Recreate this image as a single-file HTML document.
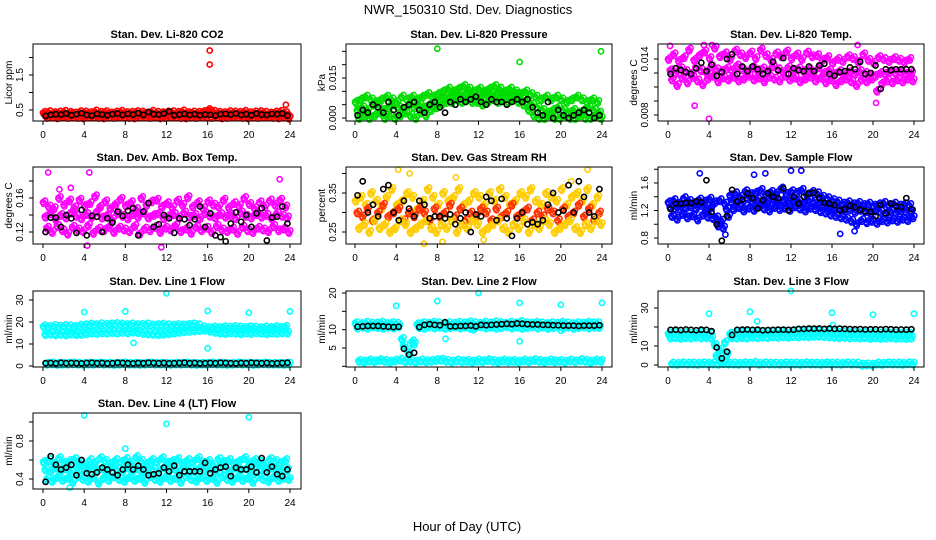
<!DOCTYPE html>
<html><head><meta charset="utf-8">
<style>
html,body{margin:0;padding:0;background:#fff;}
svg{display:block;font-family:"Liberation Sans",Arial,sans-serif;}
</style></head>
<body>
<svg id="chart" width="936" height="540" viewBox="0 0 936 540" xmlns="http://www.w3.org/2000/svg">
<rect width="936" height="540" fill="#fff"/>
<text x="468" y="14" font-size="13" text-anchor="middle">NWR_150310  Std. Dev. Diagnostics</text>
<text x="467" y="531" font-size="13" text-anchor="middle">Hour of Day (UTC)</text>
</svg>
<script>
const hours=[0,0.5,1,1.5,2,2.5,3,3.5,4,4.5,5,5.5,6,6.5,7,7.5,8,8.5,9,9.5,10,10.5,11,11.5,12,12.5,13,13.5,14,14.5,15,15.5,16,16.5,17,17.5,18,18.5,19,19.5,20,20.5,21,21.5,22,22.5,23,23.5];
const xTicks=[0,4,8,12,16,20,24];

const co2A=[.42,.44,.41,.43,.45,.42,.40,.44,.43,.41,.46,.42,.44,.40,.43,.45,.41,.42,.44,.43,.40,.45,.42,.41,.43,.44,.42,.46,.41,.43,.42,.44,.50,.45,.42,.41,.44,.43,.42,.45,.41,.43,.44,.42,.40,.43,.45,.41];
const co2B=[.36,.35,.37,.34,.36,.38,.35,.36,.37,.34,.36,.35,.38,.36,.34,.37,.36,.35,.37,.38,.36,.34,.35,.37,.36,.35,.38,.36,.37,.34,.36,.35,.45,.37,.36,.35,.34,.37,.36,.38,.35,.36,.37,.34,.36,.35,.37,.33];
const co2C=[.30,.31,.29,.32,.30,.31,.30,.29,.32,.31,.30,.29,.31,.30,.32,.31,.30,.29,.31,.32,.30,.31,.29,.30,.32,.31,.30,.29,.31,.30,.32,.31,.30,.31,.29,.30,.32,.31,.30,.29,.31,.30,.32,.31,.30,.29,.31,.28];
const co2Black=[.33,.36,.38,.37,.40,.35,.38,.41,.36,.34,.39,.37,.35,.38,.40,.36,.39,.37,.41,.36,.44,.38,.37,.40,.46,.35,.37,.39,.36,.38,.35,.37,.36,.34,.38,.39,.37,.40,.36,.38,.35,.40,.37,.36,.39,.38,.40,.34];
const co2OutX=[16.2,16.2,23.6], co2OutY=[2.2,1.8,0.65];

const presA=[.006,.007,.008,.007,.006,.007,.008,.007,.006,.008,.007,.008,.007,.008,.009,.008,.009,.010,.011,.010,.011,.012,.011,.010,.011,.010,.011,.012,.011,.010,.011,.010,.009,.010,.009,.008,.007,.008,.007,.008,.007,.006,.007,.008,.007,.006,.007,.006];
const presB=[.003,.004,.003,.005,.004,.003,.004,.005,.004,.003,.005,.004,.005,.004,.005,.006,.007,.008,.008,.009,.008,.009,.008,.007,.008,.009,.008,.009,.008,.009,.008,.009,.007,.006,.005,.004,.003,.002,.003,.004,.003,.002,.003,.002,.003,.004,.003,.002];
const presC=[.000,.001,.000,.001,.002,.000,.001,.000,.001,.002,.001,.000,.002,.001,.003,.004,.005,.006,.006,.007,.006,.007,.006,.006,.005,.006,.007,.006,.007,.006,.007,.006,.005,.003,.001,.000,.000,.001,.000,.000,.001,.000,.000,.001,.000,.000,.001,.000];
const presBlack=[.001,.003,.002,.005,.004,.002,.006,.003,.001,.004,.005,.006,.003,.002,.005,.006,.004,.002,.006,.005,.007,.006,.007,.008,.006,.005,.007,.006,.006,.005,.006,.007,.006,.007,.004,.002,.001,.006,.000,.003,.001,.000,.001,.002,.003,.002,.000,.001];
const presOutX=[8,16,23.9], presOutY=[.026,.021,.025];

const tempA=[.0140,.0145,.0138,.0142,.0150,.0139,.0144,.0148,.0141,.0152,.0143,.0146,.0140,.0149,.0145,.0142,.0147,.0141,.0150,.0144,.0139,.0146,.0143,.0148,.0141,.0145,.0140,.0147,.0143,.0144,.0139,.0142,.0136,.0140,.0138,.0143,.0141,.0137,.0145,.0139,.0136,.0142,.0140,.0138,.0141,.0139,.0137,.0140];
const tempB=[.0128,.0125,.0130,.0127,.0124,.0131,.0128,.0126,.0132,.0129,.0127,.0130,.0128,.0133,.0129,.0126,.0131,.0128,.0130,.0127,.0132,.0129,.0126,.0131,.0128,.0130,.0127,.0129,.0126,.0131,.0125,.0128,.0124,.0127,.0123,.0126,.0124,.0127,.0125,.0123,.0122,.0125,.0124,.0127,.0125,.0126,.0124,.0125];
const tempC=[.0118,.0112,.0120,.0115,.0121,.0117,.0113,.0119,.0122,.0116,.0120,.0118,.0121,.0117,.0119,.0122,.0118,.0120,.0116,.0121,.0119,.0117,.0122,.0118,.0120,.0116,.0119,.0121,.0117,.0120,.0115,.0118,.0113,.0117,.0119,.0116,.0112,.0118,.0116,.0119,.0106,.0114,.0117,.0115,.0118,.0116,.0119,.0117];
const tempBlack=[.0124,.0130,.0128,.0126,.0124,.0130,.0136,.0127,.0134,.0122,.0126,.0140,.0145,.0124,.0132,.0127,.0132,.0129,.0124,.0127,.0137,.0128,.0141,.0124,.0130,.0128,.0127,.0132,.0127,.0133,.0135,.0124,.0122,.0126,.0127,.0131,.0129,.0137,.0124,.0125,.0133,.0108,.0129,.0128,.0129,.0129,.0129,.0129];
const tempOutX=[0.2,3.5,4,4.3,18.5,20.3,2.6], tempOutY=[.0154,.0155,.0076,.0155,.0155,.0093,.0090];

const ambA=[.155,.150,.148,.160,.152,.157,.149,.158,.151,.154,.162,.150,.156,.148,.153,.159,.151,.155,.147,.160,.152,.156,.158,.150,.154,.149,.157,.152,.161,.150,.155,.148,.156,.152,.150,.158,.149,.154,.151,.160,.153,.148,.155,.150,.157,.152,.158,.150];
const ambB=[.138,.142,.135,.140,.137,.143,.139,.136,.141,.138,.144,.137,.140,.135,.142,.139,.136,.141,.138,.143,.137,.140,.142,.136,.139,.141,.137,.143,.138,.140,.136,.142,.139,.137,.141,.138,.140,.136,.143,.139,.137,.141,.138,.140,.136,.142,.139,.137];
const ambC=[.125,.120,.127,.122,.118,.126,.123,.121,.128,.119,.124,.122,.126,.120,.125,.123,.121,.127,.118,.124,.122,.126,.120,.125,.123,.128,.121,.124,.119,.126,.122,.125,.120,.127,.123,.121,.124,.119,.126,.122,.120,.125,.123,.121,.127,.122,.124,.120];
const ambBlack=[.120,.137,.137,.126,.140,.136,.119,.146,.116,.139,.138,.120,.136,.131,.144,.139,.145,.148,.116,.144,.154,.126,.129,.140,.136,.119,.136,.135,.128,.135,.150,.126,.142,.116,.114,.109,.130,.143,.132,.140,.126,.142,.148,.110,.137,.138,.150,.130];
const ambOutX=[0.5,4.5,11.5,23,2.7,1.6,4.3], ambOutY=[.190,.190,.102,.182,.172,.170,.104];

const rhA=[.33,.34,.32,.35,.33,.31,.34,.36,.32,.33,.35,.34,.31,.33,.36,.34,.32,.35,.33,.34,.36,.32,.33,.35,.34,.32,.35,.33,.36,.34,.32,.33,.35,.34,.36,.33,.32,.35,.34,.33,.36,.32,.34,.35,.33,.36,.32,.34];
const rhB=[.30,.29,.31,.28,.30,.32,.29,.30,.31,.28,.30,.29,.31,.30,.28,.31,.29,.30,.32,.29,.31,.28,.30,.29,.31,.30,.28,.31,.29,.30,.32,.29,.30,.31,.28,.30,.29,.31,.30,.28,.31,.29,.30,.32,.29,.31,.28,.30];
const rhC=[.26,.27,.25,.28,.26,.27,.25,.26,.28,.27,.25,.26,.27,.28,.26,.25,.27,.26,.28,.25,.27,.26,.28,.27,.25,.26,.27,.28,.26,.25,.27,.26,.28,.25,.27,.26,.28,.27,.25,.26,.27,.28,.26,.25,.27,.26,.28,.27];
const rhBlack=[.344,.38,.30,.32,.29,.36,.37,.30,.28,.33,.31,.29,.33,.32,.285,.29,.29,.285,.295,.27,.285,.30,.25,.295,.29,.34,.33,.28,.335,.285,.24,.285,.30,.27,.275,.27,.28,.32,.35,.30,.305,.37,.30,.38,.34,.30,.29,.36];
const rhOutX=[4.2,5.3,9.8,6.7,8.5,22.6,21,12.5], rhOutY=[.41,.40,.39,.22,.225,.41,.38,.23];

const sfA=[1.32,1.35,1.30,1.38,1.34,1.31,1.36,1.33,1.37,1.32,1.35,1.30,1.42,1.45,1.40,1.48,1.44,1.46,1.50,1.43,1.47,1.45,1.52,1.44,1.48,1.46,1.50,1.43,1.47,1.45,1.40,1.38,1.35,1.33,1.30,1.32,1.29,1.31,1.28,1.30,1.27,1.29,1.31,1.28,1.30,1.27,1.29,1.28];
const sfB=[1.25,1.22,1.27,1.24,1.26,1.23,1.28,1.21,1.25,1.10,1.05,1.22,1.32,1.35,1.30,1.38,1.33,1.36,1.34,1.31,1.37,1.33,1.35,1.32,1.36,1.34,1.31,1.35,1.33,1.30,1.28,1.25,1.22,1.24,1.20,1.22,1.18,1.21,1.19,1.17,1.20,1.18,1.16,1.19,1.17,1.20,1.18,1.19];
const sfC=[1.12,1.08,1.15,1.10,1.13,1.07,1.14,1.11,1.09,0.98,0.95,1.12,1.22,1.25,1.20,1.24,1.21,1.26,1.23,1.20,1.25,1.22,1.24,1.21,1.26,1.23,1.20,1.24,1.22,1.19,1.17,1.14,1.12,1.10,1.08,1.05,1.00,1.06,1.03,1.05,1.02,1.06,1.04,1.07,1.05,1.08,1.06,1.10];
const sfBlack=[1.22,1.30,1.30,1.31,1.31,1.33,1.32,1.64,1.18,1.00,0.76,1.12,1.50,1.33,1.36,1.45,1.38,1.23,1.35,1.45,1.40,1.38,1.52,1.20,1.40,1.30,1.40,1.45,1.46,1.38,1.31,1.30,1.28,1.20,1.22,1.27,1.25,1.21,1.19,1.18,1.12,1.28,1.16,1.30,1.26,1.25,1.38,1.22];
const sfOutX=[3.1,12,13,9.5,8.4,16.8,5.6,18.2], sfOutY=[1.74,1.78,1.78,1.74,1.72,0.86,0.85,0.90];

const l1A=[18.0,17.8,18.2,17.9,18.1,18.0,17.7,18.3,18.5,18.8,18.6,19.0,18.7,18.9,19.1,18.8,18.6,18.9,18.5,18.7,18.9,18.4,18.6,18.8,18.5,18.3,18.6,18.4,18.7,18.9,18.5,17.5,17.2,17.5,17.3,17.6,17.4,17.7,17.5,17.3,17.6,17.4,17.2,17.5,17.3,17.6,17.4,17.8];
const l1B=[14.5,14.7,14.4,14.6,14.3,14.8,14.5,14.6,14.9,15.2,15.0,15.3,15.1,15.4,15.2,15.5,15.3,15.6,15.4,15.0,14.8,14.6,14.5,14.7,14.9,15.2,15.5,15.8,16.0,16.2,16.3,16.5,16.0,15.5,15.2,15.0,15.3,15.1,14.9,15.2,15.0,15.3,15.1,14.9,15.2,15.0,15.3,15.1];
const l1C=[1,1.2,0.9,1.1,1,1.2,1,0.9,1.1,1,1.2,1,1.1,0.9,1,1.2,1,1.1,0.9,1,1.2,1,1.1,1,0.9,1.1,1,1.2,1,0.9,1.1,1,1.2,1,1.1,0.9,1,1.2,1,1.1,0.9,1,1.2,1,1.1,1,0.9,1.1];
const l1Black=[1.3,1.4,1.2,1.5,1.3,1.4,1.3,1.2,1.4,1.5,1.3,1.4,1.2,1.3,1.5,1.4,1.3,1.2,1.4,1.3,1.5,1.4,1.3,1.4,1.2,1.3,1.4,1.5,1.3,1.4,1.2,1.3,1.4,1.3,1.5,1.4,1.3,1.2,1.4,1.3,1.5,1.4,1.3,1.4,1.2,1.3,1.4,1.5];
const l1OutX=[4,8,12,16,20,24,8.8,16,7.7], l1OutY=[24.5,24.8,33,25,24.2,24.8,10.5,8,19.5];

const l2A=[11.8,11.5,11.9,11.6,11.7,11.9,11.5,11.8,11.6,7.5,4.5,6.8,11.5,11.8,11.6,11.9,11.7,11.5,11.8,11.6,11.9,11.7,12.0,11.8,11.6,11.9,11.7,12.0,11.8,11.6,11.9,11.7,12.1,11.8,11.6,11.9,11.7,11.5,11.8,11.6,11.9,11.7,11.5,11.8,11.6,11.9,11.7,11.8];
const l2B=[10.6,10.8,10.5,10.9,10.7,10.5,10.8,10.6,10.9,5.8,3.5,6.2,10.7,10.5,10.9,10.6,10.8,10.5,10.7,10.9,10.6,10.8,10.5,10.7,10.9,10.6,10.8,10.5,10.7,10.9,10.6,10.8,10.5,10.7,10.9,10.6,10.8,10.5,10.7,10.9,10.6,10.8,10.5,10.7,10.9,10.6,10.8,10.7];
const l2C=[1.5,1.3,1.6,1.4,1.7,1.5,1.3,1.6,1.8,1.4,1.5,1.3,1.6,1.4,1.5,1.7,1.8,1.5,1.3,1.6,1.4,1.5,1.3,1.6,1.4,1.7,1.5,1.3,1.6,1.4,1.5,1.3,1.6,1.4,1.7,1.5,1.3,1.6,1.4,1.5,1.3,1.6,1.4,1.7,1.5,1.3,1.6,1.5];
const l2Black=[10.8,10.9,11.0,11.0,11.0,10.9,10.8,10.7,10.8,4.8,3.2,3.7,10.7,11.3,11.5,11.3,11.2,12.0,10.9,10.9,11.0,11.0,11.1,10.9,11.3,11.2,11.3,11.4,11.5,11.6,11.5,11.7,11.6,11.5,11.4,11.4,11.3,11.3,11.2,11.2,11.1,11.1,11.1,11.0,11.1,11.1,11.1,11.2];
const l2OutX=[4,8,12,16,20,24,8.8,16,20,11.5], l2OutY=[16.5,17.8,20,17.3,16.8,17.3,7.5,6.8,9.7,9.8];

const l3A=[16.5,17,16.2,16.8,16.5,16.3,16.9,16.6,16.4,10.5,8,12,16.5,16.8,16.9,17.2,17,17.3,17.1,17.4,17.2,17.5,17.3,17.6,17.4,17.7,17.5,17.8,17.5,17.6,17.8,17.5,17.2,16.9,17.1,16.8,17.0,16.7,16.9,16.6,16.8,16.5,16.7,16.4,16.6,16.3,16.5,16.4];
const l3B=[14.5,14.7,14.3,14.6,14.4,14.8,14.5,14.6,14.3,5,2.5,5.5,14.6,14.4,14.7,14.5,14.8,14.6,14.9,14.7,15.0,14.8,15.1,14.9,15.2,15.0,15.3,15.1,15.3,15.4,15.2,15.0,14.8,14.6,14.8,14.5,14.7,14.4,14.6,14.3,14.5,14.2,14.4,14.6,14.3,14.5,14.2,14.4];
const l3C=[0.8,0.6,0.9,0.7,0.8,0.6,0.9,0.7,0.8,0.6,0.9,0.7,0.8,0.6,0.9,0.7,1.2,0.6,0.9,0.7,0.8,0.6,0.9,0.7,0.8,0.6,0.9,0.7,0.8,0.6,0.9,0.7,0.8,0.6,0.9,0.7,0.8,0.2,0.3,0.2,0.8,0.6,0.9,0.7,0.8,0.6,0.9,0.7];
const l3Black=[18.5,18.6,18.4,18.7,18.5,18.3,18.6,18.5,17.8,9.2,3.5,7.0,15.8,18.5,18.6,18.7,18.5,18.6,18.3,18.4,18.5,18.6,18.6,18.5,18.6,19.0,19.0,19.2,19.1,19.2,19.0,19.2,19.0,19.1,19.0,18.9,18.8,18.9,18.7,18.8,18.8,18.7,18.9,18.8,18.6,18.7,18.6,18.8];
const l3OutX=[4,8,12,16,20,24,8.7,16.1], l3OutY=[27,28,39,27.5,26.5,27,23,21];

const l4A=[.58,.60,.56,.62,.57,.59,.61,.58,.55,.60,.57,.62,.59,.56,.60,.58,.61,.57,.63,.59,.56,.60,.58,.62,.57,.59,.61,.56,.60,.58,.62,.57,.59,.55,.61,.58,.60,.56,.59,.62,.57,.60,.58,.55,.61,.59,.57,.60];
const l4B=[.50,.48,.52,.49,.51,.47,.53,.50,.48,.52,.49,.51,.47,.53,.50,.48,.52,.49,.51,.47,.53,.50,.48,.52,.49,.51,.47,.53,.50,.48,.52,.49,.51,.47,.53,.50,.48,.52,.49,.51,.47,.53,.50,.48,.52,.49,.51,.50];
const l4C=[.40,.38,.42,.39,.41,.37,.43,.40,.38,.42,.36,.41,.39,.43,.40,.38,.42,.39,.41,.37,.43,.40,.38,.42,.39,.41,.37,.43,.40,.38,.42,.39,.41,.37,.43,.40,.38,.42,.39,.41,.37,.43,.40,.38,.42,.39,.41,.40];
const l4Black=[.37,.64,.55,.50,.52,.55,.44,.60,.46,.45,.47,.52,.50,.47,.44,.50,.55,.50,.54,.50,.44,.45,.46,.52,.48,.54,.44,.48,.48,.48,.48,.57,.46,.50,.52,.53,.43,.52,.50,.50,.53,.47,.62,.47,.53,.45,.43,.50];
const l4OutX=[4,12,20,8,2.6], l4OutY=[1.07,.98,1.05,.72,.31];

const NS='http://www.w3.org/2000/svg';
const svg=document.getElementById('chart');
function mk(tag,attrs,parent){const e=document.createElementNS(NS,tag);for(const k in attrs)e.setAttribute(k,attrs[k]);(parent||svg).appendChild(e);return e;}

const cols=[{l:33,r:301,x0:43,x24:290},{l:346,r:612,x0:355,x24:602},{l:658,r:924,x0:668,x24:914}];
const rows=[{t:44,b:121},{t:167,b:244},{t:291,b:367},{t:413,b:489}];

const panels=[
 {name:'co2',title:'Stan. Dev. Li-820 CO2',ylab:'Licor ppm',c:0,r:0,vA:0.5,pA:110,vB:1.5,pB:75,ticks:[0.5,1,1.5,2],labels:['0.5','','1.5',''],col:'#ff0000',s:[co2A,co2B,co2C],bk:co2Black,ox:co2OutX,oy:co2OutY},
 {name:'pressure',title:'Stan. Dev. Li-820 Pressure',ylab:'kPa',c:1,r:0,vA:0,pA:118,vB:0.015,pB:78,ticks:[0,0.005,0.01,0.015,0.02,0.025],labels:['0.000','','','0.015','',''],col:'#00dd00',s:[presA,presB,presC],bk:presBlack,ox:presOutX,oy:presOutY},
 {name:'li820-temp',title:'Stan. Dev. Li-820 Temp.',ylab:'degrees C',c:2,r:0,vA:0.008,pA:115,vB:0.014,pB:59,ticks:[0.008,0.0095,0.011,0.0125,0.014],labels:['0.008','','','','0.014'],col:'#ff00ff',s:[tempA,tempB,tempC],bk:tempBlack,ox:tempOutX,oy:tempOutY},
 {name:'amb-box-temp',title:'Stan. Dev. Amb. Box Temp.',ylab:'degrees C',c:0,r:1,vA:0.12,pA:232,vB:0.16,pB:198,ticks:[0.12,0.14,0.16,0.18],labels:['0.12','','0.16',''],col:'#ff00ff',s:[ambA,ambB,ambC],bk:ambBlack,ox:ambOutX,oy:ambOutY},
 {name:'gas-stream-rh',title:'Stan. Dev. Gas Stream RH',ylab:'percent',c:1,r:1,vA:0.25,pA:232,vB:0.35,pB:193,ticks:[0.25,0.3,0.35,0.4],labels:['0.25','','0.35',''],col:'#ffcc00',col2:'#ff3300',s:[rhA,rhB,rhC],bk:rhBlack,ox:rhOutX,oy:rhOutY},
 {name:'sample-flow',title:'Stan. Dev. Sample Flow',ylab:'ml/min',c:2,r:1,vA:0.8,pA:238,vB:1.6,pB:183,ticks:[0.8,1,1.2,1.4,1.6,1.8],labels:['0.8','','1.2','','1.6',''],col:'#0000ff',s:[sfA,sfB,sfC],bk:sfBlack,ox:sfOutX,oy:sfOutY},
 {name:'line1-flow',title:'Stan. Dev. Line 1 Flow',ylab:'ml/min',c:0,r:2,vA:0,pA:366,vB:30,pB:300,ticks:[0,10,20,30],labels:['0','10','20','30'],col:'#00ffff',s:[l1A,l1B,l1C],bk:l1Black,ox:l1OutX,oy:l1OutY},
 {name:'line2-flow',title:'Stan. Dev. Line 2 Flow',ylab:'ml/min',c:1,r:2,vA:5,pA:348,vB:20,pB:293,ticks:[0,5,10,15,20],labels:['','5','10','','20'],col:'#00ffff',s:[l2A,l2B,l2C],bk:l2Black,ox:l2OutX,oy:l2OutY},
 {name:'line3-flow',title:'Stan. Dev. Line 3 Flow',ylab:'ml/min',c:2,r:2,vA:0,pA:365,vB:30,pB:308,ticks:[0,10,20,30],labels:['0','10','','30'],col:'#00ffff',s:[l3A,l3B,l3C],bk:l3Black,ox:l3OutX,oy:l3OutY},
 {name:'line4-flow',title:'Stan. Dev. Line 4 (LT) Flow',ylab:'ml/min',c:0,r:3,vA:0.4,pA:479,vB:0.8,pB:441,ticks:[0.4,0.6,0.8,1.0],labels:['0.4','','0.8',''],col:'#00ffff',s:[l4A,l4B,l4C],bk:l4Black,ox:l4OutX,oy:l4OutY}
];
const offs=[0,0.17,0.33];
const dups=[[0,0],[0.08,1.6],[0.2,-1.6]];

panels.forEach(p=>{
 const C=cols[p.c],R=rows[p.r];
 const xs=h=>C.x0+(C.x24-C.x0)*h/24;
 const ys=v=>p.pA+(p.pB-p.pA)*(v-p.vA)/(p.vB-p.vA);
 const g=mk('g',{});
 
 
 const t=mk('text',{x:(C.l+C.r)/2,y:R.t-6,'font-size':'11','font-weight':'bold','text-anchor':'middle'},g);
 t.textContent=p.title;
 
 
 const cx=C.l-21, cy=(R.t+R.b)/2;
 const yl=mk('text',{x:cx,y:cy,'font-size':'10','text-anchor':'middle',transform:`rotate(-90 ${cx} ${cy})`},g);
 yl.textContent=p.ylab;
 
 
 const pg=mk('g',{fill:'none'},g);
 
 
 p.s.forEach((arr,si)=>{
  const color=(si===1&&p.col2)?p.col2:p.col;
  arr.forEach((v,i)=>{
   dups.forEach(d=>{
    const c=mk('circle',{cx:xs(hours[i]+offs[si]+d[0]),cy:ys(v)+d[1],r:2.6,stroke:color,'stroke-width':1.6},pg);
    
    
   });
  });
 });
 p.ox.forEach((x,i)=>{
  const c=mk('circle',{cx:xs(x),cy:ys(p.oy[i]),r:2.6,stroke:p.col,'stroke-width':1.6},pg);
  
  
 });
 p.bk.forEach((v,i)=>{
  const c=mk('circle',{cx:xs(hours[i]+0.25),cy:ys(v),r:2.6,stroke:'#000','stroke-width':1.6},pg);
  
  
 });
 const b=mk('rect',{x:C.l,y:R.t,width:C.r-C.l,height:R.b-R.t,fill:'none',stroke:'#000','stroke-width':1},g);
 
 
 xTicks.forEach(h=>{
  mk('line',{x1:xs(h),x2:xs(h),y1:R.b,y2:R.b+4,stroke:'#000'},g);
  const tl=mk('text',{x:xs(h),y:R.b+17,'font-size':'10','text-anchor':'middle'},g);
  tl.textContent=h;
  
  
 });
 p.ticks.forEach((v,i)=>{
  const y=ys(v);
  mk('line',{x1:C.l-4,x2:C.l,y1:y,y2:y,stroke:'#000'},g);
  if(p.labels[i]){
   const lx=C.l-10;
   const tl=mk('text',{x:lx,y:y,'font-size':'10','text-anchor':'middle',transform:`rotate(-90 ${lx} ${y})`},g);
   tl.textContent=p.labels[i];
   
   
  }
 });
});
</script>
</body></html>
